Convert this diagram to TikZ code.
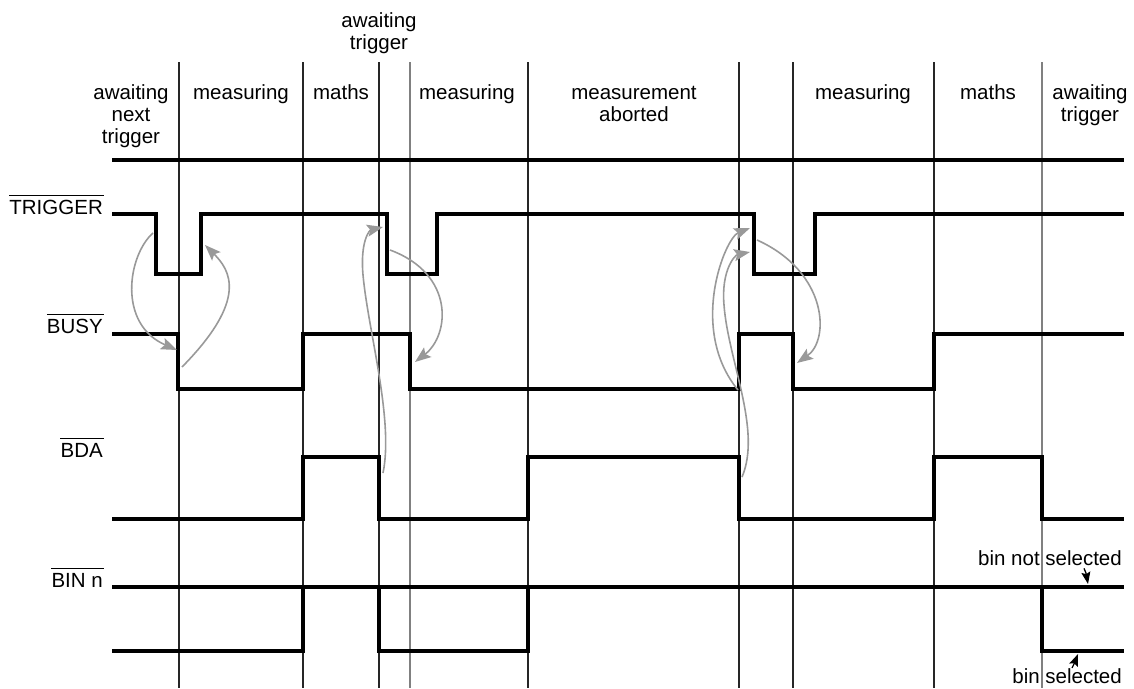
\documentclass[tikz,border=0pt]{standalone}
\usepackage{fontspec}
\setmainfont{Liberation Sans}
\usetikzlibrary{arrows.meta}
\begin{document}
\begin{tikzpicture}[x=1pt,y=-1pt,
  sig/.style={line width=4pt, line join=miter},
  grid/.style={line width=1.2pt, draw=black!85},
  gridg/.style={line width=1.2pt, draw=black!50},
  cause/.style={draw=black!40, line width=1.6pt, -{Stealth[length=16pt,width=12pt,inset=3pt,fill=black!40]}},
  note/.style={draw=black, line width=1.3pt, -{Stealth[length=12pt,width=9pt,inset=2pt]}},
  txt/.style={font=\fontsize{20.5}{22}\selectfont, inner sep=0pt, align=center, anchor=base},
  sname/.style={font=\fontsize{20.5}{22}\selectfont, inner sep=0pt, anchor=base east},
  ovl/.style={line width=1.2pt}
]
\useasboundingbox (0,0) rectangle (1134,688);

% phase boundaries
\foreach \x in {179,303,379,528,739,793,934} \draw[grid] (\x,62) -- (\x,688);
\foreach \x in {410,1042} \draw[gridg] (\x,62) -- (\x,688);

% top separator
\draw[sig] (112,160) -- (1124,160);

% phase labels (anchor base = baseline of last line)
\node[txt] (p0) at (131,143) {awaiting\\next\\trigger};
\node[txt] (p1) at (241,99) {measuring};
\node[txt] (p2) at (341,99) {maths};
\node[txt] (p3) at (379,49) {awaiting\\trigger};
\node[txt] (p4) at (467,99) {measuring};
\node[txt] (p5) at (634,121) {measurement\\aborted};
\node[txt] (p6) at (863,99) {measuring};
\node[txt] (p7) at (988,99) {maths};
\node[txt] (p8) at (1090,121) {awaiting\\trigger};

% signal names
\node[sname] (nT) at (103,214) {TRIGGER};
\node[sname] (nB) at (103,333) {BUSY};
\node[sname] (nD) at (103,457) {BDA};
\node[sname] (nN) at (103,587) {BIN n};
\foreach \n in {nT,nB,nD,nN}
  \draw[ovl] ([yshift=4pt]\n.north west) -- ([xshift=1pt,yshift=4pt]\n.north east);

% signals
\draw[sig] (112,214) -| (156,274) -| (201,214) -| (387,274) -| (437,214)
           -| (754,274) -| (815,214) -- (1124,214);
\draw[sig] (112,334) -| (178,389) -| (303,334) -| (410,389) -| (739,334)
           -| (793,389) -| (934,334) -- (1124,334);
\draw[sig] (112,519) -| (303,457) -| (379,519) -| (528,457) -| (739,519)
           -| (934,457) -| (1042,519) -- (1124,519);
\draw[sig] (112,587) -- (1124,587);
\draw[sig] (112,651) -| (303,587);
\draw[sig] (379,587) |- (528,651) -- (528,587);
\draw[sig] (1042,587) |- (1124,651);

% cause-effect arrows
\coordinate (a1s) at (153,233); \coordinate (a1e) at (177,350);
\coordinate (a2s) at (182,367); \coordinate (a2e) at (205,245);
\coordinate (a3s) at (383,473); \coordinate (a3e) at (383,227);
\coordinate (a4s) at (390,250); \coordinate (a4e) at (415,362);
\coordinate (a5s) at (738,390); \coordinate (a5e) at (750,228);
\coordinate (a6s) at (742,477); \coordinate (a6e) at (750,252);
\coordinate (a7s) at (757,240); \coordinate (a7e) at (797,363);

\draw[cause] (a1s) .. controls (128,255) and (117,324) .. (a1e);
\draw[cause] (a2s) .. controls (249,299) and (230,270) .. (a2e);
\draw[cause] (a3s) .. controls (394,420) and (368,330) .. (363,275)
             .. controls (360,240) and (370,230) .. (a3e);
\draw[cause] (a4s) .. controls (455,274) and (450,335) .. (a4e);
\draw[cause] (a5s) .. controls (688,329) and (725,238) .. (a5e);
\draw[cause] (a6s) .. controls (762,430) and (728,360) .. (724,305)
             .. controls (721,270) and (735,255) .. (a6e);
\draw[cause] (a7s) .. controls (828,272) and (830,340) .. (a7e);

% bin annotations
\node[sname] (bns) at (1122,565) {bin not selected};
\node[sname] (bs) at (1122,683) {bin selected};
\coordinate (bnsT) at (1088,584);
\coordinate (bsT) at (1078,654);
\draw[note] ([xshift=-38pt,yshift=-3pt]bns.south east) .. controls (1086,573) .. (bnsT);
\draw[note] ([xshift=-50pt,yshift=0pt]bs.north east) .. controls (1074,664) .. (bsT);
\end{tikzpicture}
\end{document}
